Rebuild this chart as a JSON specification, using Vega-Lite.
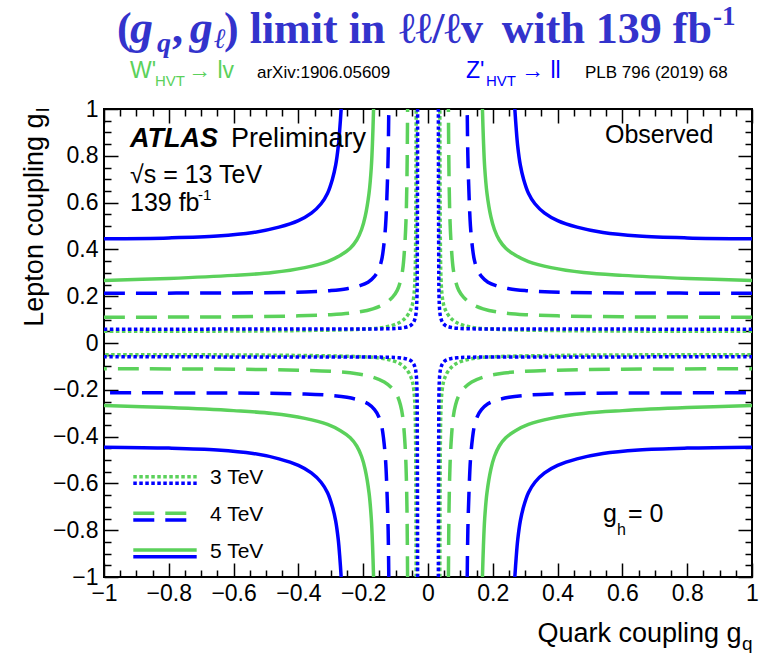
{
"$schema": "https://vega.github.io/schema/vega-lite/v6.json",
"width": 648, "height": 468,
"autosize": {"type": "none"},
"padding": {"left": 104, "top": 109, "right": 7, "bottom": 76},
"background": "white",
"config": {
 "view": {"stroke": "black", "strokeWidth": 2},
 "axis": {"labelFont": "Liberation Sans", "labelFontSize": 23, "labelColor": "black", "titleFont": "Liberation Sans", "titleFontSize": 27, "titleFontWeight": "normal", "titleColor": "black", "grid": false, "domain": false, "tickColor": "black", "tickWidth": 1.5}
},
"datasets": {"curves": [
{"c":"Z5","s":"TL","q":-1,"l":0.445},{"c":"Z5","s":"TL","q":-0.8,"l":0.449},{"c":"Z5","s":"TL","q":-0.65,"l":0.457},{"c":"Z5","s":"TL","q":-0.54,"l":0.472},{"c":"Z5","s":"TL","q":-0.46,"l":0.495},{"c":"Z5","s":"TL","q":-0.4,"l":0.523},{"c":"Z5","s":"TL","q":-0.36,"l":0.555},{"c":"Z5","s":"TL","q":-0.33,"l":0.595},{"c":"Z5","s":"TL","q":-0.31,"l":0.64},{"c":"Z5","s":"TL","q":-0.295,"l":0.7},{"c":"Z5","s":"TL","q":-0.285,"l":0.76},{"c":"Z5","s":"TL","q":-0.277,"l":0.84},{"c":"Z5","s":"TL","q":-0.272,"l":0.92},{"c":"Z5","s":"TL","q":-0.268,"l":1},
{"c":"Z5","s":"TR","q":1,"l":0.445},{"c":"Z5","s":"TR","q":0.8,"l":0.449},{"c":"Z5","s":"TR","q":0.65,"l":0.457},{"c":"Z5","s":"TR","q":0.54,"l":0.472},{"c":"Z5","s":"TR","q":0.46,"l":0.495},{"c":"Z5","s":"TR","q":0.4,"l":0.523},{"c":"Z5","s":"TR","q":0.36,"l":0.555},{"c":"Z5","s":"TR","q":0.33,"l":0.595},{"c":"Z5","s":"TR","q":0.31,"l":0.64},{"c":"Z5","s":"TR","q":0.295,"l":0.7},{"c":"Z5","s":"TR","q":0.285,"l":0.76},{"c":"Z5","s":"TR","q":0.277,"l":0.84},{"c":"Z5","s":"TR","q":0.272,"l":0.92},{"c":"Z5","s":"TR","q":0.268,"l":1},
{"c":"Z5","s":"BL","q":-1,"l":-0.445},{"c":"Z5","s":"BL","q":-0.8,"l":-0.449},{"c":"Z5","s":"BL","q":-0.65,"l":-0.457},{"c":"Z5","s":"BL","q":-0.54,"l":-0.472},{"c":"Z5","s":"BL","q":-0.46,"l":-0.495},{"c":"Z5","s":"BL","q":-0.4,"l":-0.523},{"c":"Z5","s":"BL","q":-0.36,"l":-0.555},{"c":"Z5","s":"BL","q":-0.33,"l":-0.595},{"c":"Z5","s":"BL","q":-0.31,"l":-0.64},{"c":"Z5","s":"BL","q":-0.295,"l":-0.7},{"c":"Z5","s":"BL","q":-0.285,"l":-0.76},{"c":"Z5","s":"BL","q":-0.277,"l":-0.84},{"c":"Z5","s":"BL","q":-0.272,"l":-0.92},{"c":"Z5","s":"BL","q":-0.268,"l":-1},
{"c":"Z5","s":"BR","q":1,"l":-0.445},{"c":"Z5","s":"BR","q":0.8,"l":-0.449},{"c":"Z5","s":"BR","q":0.65,"l":-0.457},{"c":"Z5","s":"BR","q":0.54,"l":-0.472},{"c":"Z5","s":"BR","q":0.46,"l":-0.495},{"c":"Z5","s":"BR","q":0.4,"l":-0.523},{"c":"Z5","s":"BR","q":0.36,"l":-0.555},{"c":"Z5","s":"BR","q":0.33,"l":-0.595},{"c":"Z5","s":"BR","q":0.31,"l":-0.64},{"c":"Z5","s":"BR","q":0.295,"l":-0.7},{"c":"Z5","s":"BR","q":0.285,"l":-0.76},{"c":"Z5","s":"BR","q":0.277,"l":-0.84},{"c":"Z5","s":"BR","q":0.272,"l":-0.92},{"c":"Z5","s":"BR","q":0.268,"l":-1},
{"c":"W5","s":"TL","q":-1,"l":0.267},{"c":"W5","s":"TL","q":-0.8,"l":0.276},{"c":"W5","s":"TL","q":-0.6,"l":0.289},{"c":"W5","s":"TL","q":-0.48,"l":0.301},{"c":"W5","s":"TL","q":-0.38,"l":0.322},{"c":"W5","s":"TL","q":-0.31,"l":0.348},{"c":"W5","s":"TL","q":-0.27,"l":0.375},{"c":"W5","s":"TL","q":-0.24,"l":0.405},{"c":"W5","s":"TL","q":-0.22,"l":0.44},{"c":"W5","s":"TL","q":-0.205,"l":0.485},{"c":"W5","s":"TL","q":-0.194,"l":0.54},{"c":"W5","s":"TL","q":-0.182,"l":0.64},{"c":"W5","s":"TL","q":-0.175,"l":0.75},{"c":"W5","s":"TL","q":-0.171,"l":0.87},{"c":"W5","s":"TL","q":-0.168,"l":1},
{"c":"W5","s":"TR","q":1,"l":0.267},{"c":"W5","s":"TR","q":0.8,"l":0.276},{"c":"W5","s":"TR","q":0.6,"l":0.289},{"c":"W5","s":"TR","q":0.48,"l":0.301},{"c":"W5","s":"TR","q":0.38,"l":0.322},{"c":"W5","s":"TR","q":0.31,"l":0.348},{"c":"W5","s":"TR","q":0.27,"l":0.375},{"c":"W5","s":"TR","q":0.24,"l":0.405},{"c":"W5","s":"TR","q":0.22,"l":0.44},{"c":"W5","s":"TR","q":0.205,"l":0.485},{"c":"W5","s":"TR","q":0.194,"l":0.54},{"c":"W5","s":"TR","q":0.182,"l":0.64},{"c":"W5","s":"TR","q":0.175,"l":0.75},{"c":"W5","s":"TR","q":0.171,"l":0.87},{"c":"W5","s":"TR","q":0.168,"l":1},
{"c":"W5","s":"BL","q":-1,"l":-0.267},{"c":"W5","s":"BL","q":-0.8,"l":-0.276},{"c":"W5","s":"BL","q":-0.6,"l":-0.289},{"c":"W5","s":"BL","q":-0.48,"l":-0.301},{"c":"W5","s":"BL","q":-0.38,"l":-0.322},{"c":"W5","s":"BL","q":-0.31,"l":-0.348},{"c":"W5","s":"BL","q":-0.27,"l":-0.375},{"c":"W5","s":"BL","q":-0.24,"l":-0.405},{"c":"W5","s":"BL","q":-0.22,"l":-0.44},{"c":"W5","s":"BL","q":-0.205,"l":-0.485},{"c":"W5","s":"BL","q":-0.194,"l":-0.54},{"c":"W5","s":"BL","q":-0.182,"l":-0.64},{"c":"W5","s":"BL","q":-0.175,"l":-0.75},{"c":"W5","s":"BL","q":-0.171,"l":-0.87},{"c":"W5","s":"BL","q":-0.168,"l":-1},
{"c":"W5","s":"BR","q":1,"l":-0.267},{"c":"W5","s":"BR","q":0.8,"l":-0.276},{"c":"W5","s":"BR","q":0.6,"l":-0.289},{"c":"W5","s":"BR","q":0.48,"l":-0.301},{"c":"W5","s":"BR","q":0.38,"l":-0.322},{"c":"W5","s":"BR","q":0.31,"l":-0.348},{"c":"W5","s":"BR","q":0.27,"l":-0.375},{"c":"W5","s":"BR","q":0.24,"l":-0.405},{"c":"W5","s":"BR","q":0.22,"l":-0.44},{"c":"W5","s":"BR","q":0.205,"l":-0.485},{"c":"W5","s":"BR","q":0.194,"l":-0.54},{"c":"W5","s":"BR","q":0.182,"l":-0.64},{"c":"W5","s":"BR","q":0.175,"l":-0.75},{"c":"W5","s":"BR","q":0.171,"l":-0.87},{"c":"W5","s":"BR","q":0.168,"l":-1},
{"c":"Z4","s":"TL","q":-1,"l":0.213},{"c":"Z4","s":"TL","q":-0.6,"l":0.214},{"c":"Z4","s":"TL","q":-0.38,"l":0.218},{"c":"Z4","s":"TL","q":-0.3,"l":0.224},{"c":"Z4","s":"TL","q":-0.25,"l":0.232},{"c":"Z4","s":"TL","q":-0.21,"l":0.245},{"c":"Z4","s":"TL","q":-0.185,"l":0.26},{"c":"Z4","s":"TL","q":-0.165,"l":0.285},{"c":"Z4","s":"TL","q":-0.152,"l":0.315},{"c":"Z4","s":"TL","q":-0.143,"l":0.355},{"c":"Z4","s":"TL","q":-0.137,"l":0.41},{"c":"Z4","s":"TL","q":-0.131,"l":0.5},{"c":"Z4","s":"TL","q":-0.127,"l":0.62},{"c":"Z4","s":"TL","q":-0.123,"l":0.8},{"c":"Z4","s":"TL","q":-0.121,"l":1},
{"c":"Z4","s":"TR","q":1,"l":0.213},{"c":"Z4","s":"TR","q":0.6,"l":0.214},{"c":"Z4","s":"TR","q":0.38,"l":0.218},{"c":"Z4","s":"TR","q":0.3,"l":0.224},{"c":"Z4","s":"TR","q":0.25,"l":0.232},{"c":"Z4","s":"TR","q":0.21,"l":0.245},{"c":"Z4","s":"TR","q":0.185,"l":0.26},{"c":"Z4","s":"TR","q":0.165,"l":0.285},{"c":"Z4","s":"TR","q":0.152,"l":0.315},{"c":"Z4","s":"TR","q":0.143,"l":0.355},{"c":"Z4","s":"TR","q":0.137,"l":0.41},{"c":"Z4","s":"TR","q":0.131,"l":0.5},{"c":"Z4","s":"TR","q":0.127,"l":0.62},{"c":"Z4","s":"TR","q":0.123,"l":0.8},{"c":"Z4","s":"TR","q":0.121,"l":1},
{"c":"Z4","s":"BL","q":-1,"l":-0.213},{"c":"Z4","s":"BL","q":-0.6,"l":-0.214},{"c":"Z4","s":"BL","q":-0.38,"l":-0.218},{"c":"Z4","s":"BL","q":-0.3,"l":-0.224},{"c":"Z4","s":"BL","q":-0.25,"l":-0.232},{"c":"Z4","s":"BL","q":-0.21,"l":-0.245},{"c":"Z4","s":"BL","q":-0.185,"l":-0.26},{"c":"Z4","s":"BL","q":-0.165,"l":-0.285},{"c":"Z4","s":"BL","q":-0.152,"l":-0.315},{"c":"Z4","s":"BL","q":-0.143,"l":-0.355},{"c":"Z4","s":"BL","q":-0.137,"l":-0.41},{"c":"Z4","s":"BL","q":-0.131,"l":-0.5},{"c":"Z4","s":"BL","q":-0.127,"l":-0.62},{"c":"Z4","s":"BL","q":-0.123,"l":-0.8},{"c":"Z4","s":"BL","q":-0.121,"l":-1},
{"c":"Z4","s":"BR","q":1,"l":-0.213},{"c":"Z4","s":"BR","q":0.6,"l":-0.214},{"c":"Z4","s":"BR","q":0.38,"l":-0.218},{"c":"Z4","s":"BR","q":0.3,"l":-0.224},{"c":"Z4","s":"BR","q":0.25,"l":-0.232},{"c":"Z4","s":"BR","q":0.21,"l":-0.245},{"c":"Z4","s":"BR","q":0.185,"l":-0.26},{"c":"Z4","s":"BR","q":0.165,"l":-0.285},{"c":"Z4","s":"BR","q":0.152,"l":-0.315},{"c":"Z4","s":"BR","q":0.143,"l":-0.355},{"c":"Z4","s":"BR","q":0.137,"l":-0.41},{"c":"Z4","s":"BR","q":0.131,"l":-0.5},{"c":"Z4","s":"BR","q":0.127,"l":-0.62},{"c":"Z4","s":"BR","q":0.123,"l":-0.8},{"c":"Z4","s":"BR","q":0.121,"l":-1},
{"c":"W4","s":"TL","q":-1,"l":0.11},{"c":"W4","s":"TL","q":-0.6,"l":0.112},{"c":"W4","s":"TL","q":-0.4,"l":0.116},{"c":"W4","s":"TL","q":-0.3,"l":0.121},{"c":"W4","s":"TL","q":-0.22,"l":0.131},{"c":"W4","s":"TL","q":-0.17,"l":0.146},{"c":"W4","s":"TL","q":-0.135,"l":0.167},{"c":"W4","s":"TL","q":-0.11,"l":0.195},{"c":"W4","s":"TL","q":-0.095,"l":0.225},{"c":"W4","s":"TL","q":-0.085,"l":0.265},{"c":"W4","s":"TL","q":-0.078,"l":0.315},{"c":"W4","s":"TL","q":-0.072,"l":0.41},{"c":"W4","s":"TL","q":-0.068,"l":0.52},{"c":"W4","s":"TL","q":-0.065,"l":0.7},{"c":"W4","s":"TL","q":-0.063,"l":1},
{"c":"W4","s":"TR","q":1,"l":0.11},{"c":"W4","s":"TR","q":0.6,"l":0.112},{"c":"W4","s":"TR","q":0.4,"l":0.116},{"c":"W4","s":"TR","q":0.3,"l":0.121},{"c":"W4","s":"TR","q":0.22,"l":0.131},{"c":"W4","s":"TR","q":0.17,"l":0.146},{"c":"W4","s":"TR","q":0.135,"l":0.167},{"c":"W4","s":"TR","q":0.11,"l":0.195},{"c":"W4","s":"TR","q":0.095,"l":0.225},{"c":"W4","s":"TR","q":0.085,"l":0.265},{"c":"W4","s":"TR","q":0.078,"l":0.315},{"c":"W4","s":"TR","q":0.072,"l":0.41},{"c":"W4","s":"TR","q":0.068,"l":0.52},{"c":"W4","s":"TR","q":0.065,"l":0.7},{"c":"W4","s":"TR","q":0.063,"l":1},
{"c":"W4","s":"BL","q":-1,"l":-0.11},{"c":"W4","s":"BL","q":-0.6,"l":-0.112},{"c":"W4","s":"BL","q":-0.4,"l":-0.116},{"c":"W4","s":"BL","q":-0.3,"l":-0.121},{"c":"W4","s":"BL","q":-0.22,"l":-0.131},{"c":"W4","s":"BL","q":-0.17,"l":-0.146},{"c":"W4","s":"BL","q":-0.135,"l":-0.167},{"c":"W4","s":"BL","q":-0.11,"l":-0.195},{"c":"W4","s":"BL","q":-0.095,"l":-0.225},{"c":"W4","s":"BL","q":-0.085,"l":-0.265},{"c":"W4","s":"BL","q":-0.078,"l":-0.315},{"c":"W4","s":"BL","q":-0.072,"l":-0.41},{"c":"W4","s":"BL","q":-0.068,"l":-0.52},{"c":"W4","s":"BL","q":-0.065,"l":-0.7},{"c":"W4","s":"BL","q":-0.063,"l":-1},
{"c":"W4","s":"BR","q":1,"l":-0.11},{"c":"W4","s":"BR","q":0.6,"l":-0.112},{"c":"W4","s":"BR","q":0.4,"l":-0.116},{"c":"W4","s":"BR","q":0.3,"l":-0.121},{"c":"W4","s":"BR","q":0.22,"l":-0.131},{"c":"W4","s":"BR","q":0.17,"l":-0.146},{"c":"W4","s":"BR","q":0.135,"l":-0.167},{"c":"W4","s":"BR","q":0.11,"l":-0.195},{"c":"W4","s":"BR","q":0.095,"l":-0.225},{"c":"W4","s":"BR","q":0.085,"l":-0.265},{"c":"W4","s":"BR","q":0.078,"l":-0.315},{"c":"W4","s":"BR","q":0.072,"l":-0.41},{"c":"W4","s":"BR","q":0.068,"l":-0.52},{"c":"W4","s":"BR","q":0.065,"l":-0.7},{"c":"W4","s":"BR","q":0.063,"l":-1},
{"c":"Z3","s":"TL","q":-1,"l":0.059},{"c":"Z3","s":"TL","q":-0.5,"l":0.0595},{"c":"Z3","s":"TL","q":-0.2,"l":0.06},{"c":"Z3","s":"TL","q":-0.12,"l":0.061},{"c":"Z3","s":"TL","q":-0.09,"l":0.063},{"c":"Z3","s":"TL","q":-0.07,"l":0.067},{"c":"Z3","s":"TL","q":-0.055,"l":0.074},{"c":"Z3","s":"TL","q":-0.045,"l":0.088},{"c":"Z3","s":"TL","q":-0.039,"l":0.11},{"c":"Z3","s":"TL","q":-0.036,"l":0.14},{"c":"Z3","s":"TL","q":-0.034,"l":0.2},{"c":"Z3","s":"TL","q":-0.033,"l":0.4},{"c":"Z3","s":"TL","q":-0.032,"l":1},
{"c":"Z3","s":"TR","q":1,"l":0.059},{"c":"Z3","s":"TR","q":0.5,"l":0.0595},{"c":"Z3","s":"TR","q":0.2,"l":0.06},{"c":"Z3","s":"TR","q":0.12,"l":0.061},{"c":"Z3","s":"TR","q":0.09,"l":0.063},{"c":"Z3","s":"TR","q":0.07,"l":0.067},{"c":"Z3","s":"TR","q":0.055,"l":0.074},{"c":"Z3","s":"TR","q":0.045,"l":0.088},{"c":"Z3","s":"TR","q":0.039,"l":0.11},{"c":"Z3","s":"TR","q":0.036,"l":0.14},{"c":"Z3","s":"TR","q":0.034,"l":0.2},{"c":"Z3","s":"TR","q":0.033,"l":0.4},{"c":"Z3","s":"TR","q":0.032,"l":1},
{"c":"Z3","s":"BL","q":-1,"l":-0.059},{"c":"Z3","s":"BL","q":-0.5,"l":-0.0595},{"c":"Z3","s":"BL","q":-0.2,"l":-0.06},{"c":"Z3","s":"BL","q":-0.12,"l":-0.061},{"c":"Z3","s":"BL","q":-0.09,"l":-0.063},{"c":"Z3","s":"BL","q":-0.07,"l":-0.067},{"c":"Z3","s":"BL","q":-0.055,"l":-0.074},{"c":"Z3","s":"BL","q":-0.045,"l":-0.088},{"c":"Z3","s":"BL","q":-0.039,"l":-0.11},{"c":"Z3","s":"BL","q":-0.036,"l":-0.14},{"c":"Z3","s":"BL","q":-0.034,"l":-0.2},{"c":"Z3","s":"BL","q":-0.033,"l":-0.4},{"c":"Z3","s":"BL","q":-0.032,"l":-1},
{"c":"Z3","s":"BR","q":1,"l":-0.059},{"c":"Z3","s":"BR","q":0.5,"l":-0.0595},{"c":"Z3","s":"BR","q":0.2,"l":-0.06},{"c":"Z3","s":"BR","q":0.12,"l":-0.061},{"c":"Z3","s":"BR","q":0.09,"l":-0.063},{"c":"Z3","s":"BR","q":0.07,"l":-0.067},{"c":"Z3","s":"BR","q":0.055,"l":-0.074},{"c":"Z3","s":"BR","q":0.045,"l":-0.088},{"c":"Z3","s":"BR","q":0.039,"l":-0.11},{"c":"Z3","s":"BR","q":0.036,"l":-0.14},{"c":"Z3","s":"BR","q":0.034,"l":-0.2},{"c":"Z3","s":"BR","q":0.033,"l":-0.4},{"c":"Z3","s":"BR","q":0.032,"l":-1},
{"c":"W3","s":"TL","q":-1,"l":0.05},{"c":"W3","s":"TL","q":-0.6,"l":0.051},{"c":"W3","s":"TL","q":-0.35,"l":0.054},{"c":"W3","s":"TL","q":-0.22,"l":0.058},{"c":"W3","s":"TL","q":-0.15,"l":0.064},{"c":"W3","s":"TL","q":-0.11,"l":0.075},{"c":"W3","s":"TL","q":-0.085,"l":0.09},{"c":"W3","s":"TL","q":-0.068,"l":0.11},{"c":"W3","s":"TL","q":-0.056,"l":0.135},{"c":"W3","s":"TL","q":-0.048,"l":0.165},{"c":"W3","s":"TL","q":-0.043,"l":0.21},{"c":"W3","s":"TL","q":-0.04,"l":0.28},{"c":"W3","s":"TL","q":-0.038,"l":0.45},{"c":"W3","s":"TL","q":-0.0365,"l":1},
{"c":"W3","s":"TR","q":1,"l":0.05},{"c":"W3","s":"TR","q":0.6,"l":0.051},{"c":"W3","s":"TR","q":0.35,"l":0.054},{"c":"W3","s":"TR","q":0.22,"l":0.058},{"c":"W3","s":"TR","q":0.15,"l":0.064},{"c":"W3","s":"TR","q":0.11,"l":0.075},{"c":"W3","s":"TR","q":0.085,"l":0.09},{"c":"W3","s":"TR","q":0.068,"l":0.11},{"c":"W3","s":"TR","q":0.056,"l":0.135},{"c":"W3","s":"TR","q":0.048,"l":0.165},{"c":"W3","s":"TR","q":0.043,"l":0.21},{"c":"W3","s":"TR","q":0.04,"l":0.28},{"c":"W3","s":"TR","q":0.038,"l":0.45},{"c":"W3","s":"TR","q":0.0365,"l":1},
{"c":"W3","s":"BL","q":-1,"l":-0.05},{"c":"W3","s":"BL","q":-0.6,"l":-0.051},{"c":"W3","s":"BL","q":-0.35,"l":-0.054},{"c":"W3","s":"BL","q":-0.22,"l":-0.058},{"c":"W3","s":"BL","q":-0.15,"l":-0.064},{"c":"W3","s":"BL","q":-0.11,"l":-0.075},{"c":"W3","s":"BL","q":-0.085,"l":-0.09},{"c":"W3","s":"BL","q":-0.068,"l":-0.11},{"c":"W3","s":"BL","q":-0.056,"l":-0.135},{"c":"W3","s":"BL","q":-0.048,"l":-0.165},{"c":"W3","s":"BL","q":-0.043,"l":-0.21},{"c":"W3","s":"BL","q":-0.04,"l":-0.28},{"c":"W3","s":"BL","q":-0.038,"l":-0.45},{"c":"W3","s":"BL","q":-0.0365,"l":-1},
{"c":"W3","s":"BR","q":1,"l":-0.05},{"c":"W3","s":"BR","q":0.6,"l":-0.051},{"c":"W3","s":"BR","q":0.35,"l":-0.054},{"c":"W3","s":"BR","q":0.22,"l":-0.058},{"c":"W3","s":"BR","q":0.15,"l":-0.064},{"c":"W3","s":"BR","q":0.11,"l":-0.075},{"c":"W3","s":"BR","q":0.085,"l":-0.09},{"c":"W3","s":"BR","q":0.068,"l":-0.11},{"c":"W3","s":"BR","q":0.056,"l":-0.135},{"c":"W3","s":"BR","q":0.048,"l":-0.165},{"c":"W3","s":"BR","q":0.043,"l":-0.21},{"c":"W3","s":"BR","q":0.04,"l":-0.28},{"c":"W3","s":"BR","q":0.038,"l":-0.45},{"c":"W3","s":"BR","q":0.0365,"l":-1}
], "one": [{}]},
"layer": [
{"data": {"name": "curves"}, "transform": [{"filter": "datum.c == 'W3'"}],
 "mark": {"type": "line", "color": "#5bd15b", "strokeWidth": 3.5, "strokeDash": [3.5, 2.5], "interpolate": "catmull-rom", "clip": true},
 "encoding": {
  "x": {"field": "q", "type": "quantitative", "scale": {"domain": [-1, 1], "nice": false, "zero": false},
   "axis": {"orient": "bottom", "values": [-1,-0.8,-0.6,-0.4,-0.2,0,0.2,0.4,0.6,0.8,1], "format": ".1~f", "ticks": false, "labelPadding": 5, "labelFlush": false, "labelOverlap": false, "title": "Quark coupling g", "titleAnchor": "end", "titleAlign": "right", "titleBaseline": "alphabetic", "titleX": 637, "titleY": 64}},
  "y": {"field": "l", "type": "quantitative", "scale": {"domain": [-1, 1], "nice": false, "zero": false},
   "axis": {"orient": "left", "values": [-1,-0.8,-0.6,-0.4,-0.2,0,0.2,0.4,0.6,0.8,1], "format": ".1~f", "ticks": false, "labelPadding": 6, "labelFlush": false, "labelOverlap": false, "title": "Lepton coupling g", "titleAnchor": "end", "titleAngle": 270, "titleAlign": "right", "titleBaseline": "alphabetic", "titleX": -62, "titleY": 4}},
  "detail": {"field": "s"},
  "order": {"field": "l", "type": "quantitative"}
 }},
{"data": {"name": "curves"}, "transform": [{"filter": "datum.c == 'W4'"}],
 "mark": {"type": "line", "color": "#5bd15b", "strokeWidth": 3.5, "strokeDash": [21, 11], "interpolate": "catmull-rom", "clip": true},
 "encoding": {
  "x": {"field": "q", "type": "quantitative", "scale": {"domain": [-1, 1], "nice": false, "zero": false},
   "axis": {"orient": "bottom", "offset": -14, "tickSize": 14, "values": [-1,-0.8,-0.6,-0.4,-0.2,0,0.2,0.4,0.6,0.8,1], "labels": false, "title": null}},
  "y": {"field": "l", "type": "quantitative", "scale": {"domain": [-1, 1], "nice": false, "zero": false},
   "axis": {"orient": "left", "offset": -14, "tickSize": 14, "values": [-1,-0.8,-0.6,-0.4,-0.2,0,0.2,0.4,0.6,0.8,1], "labels": false, "title": null}},
  "detail": {"field": "s"},
  "order": {"field": "l", "type": "quantitative"}
 }},
{"data": {"name": "curves"}, "transform": [{"filter": "datum.c == 'W5'"}],
 "mark": {"type": "line", "color": "#5bd15b", "strokeWidth": 3.5, "interpolate": "catmull-rom", "clip": true},
 "encoding": {
  "x": {"field": "q", "type": "quantitative", "scale": {"domain": [-1, 1], "nice": false, "zero": false},
   "axis": {"orient": "bottom", "offset": -7, "tickSize": 7, "values": [-0.95,-0.9,-0.85,-0.75,-0.7,-0.65,-0.55,-0.5,-0.45,-0.35,-0.3,-0.25,-0.15,-0.1,-0.05,0.05,0.1,0.15,0.25,0.3,0.35,0.45,0.5,0.55,0.65,0.7,0.75,0.85,0.9,0.95], "labels": false, "title": null}},
  "y": {"field": "l", "type": "quantitative", "scale": {"domain": [-1, 1], "nice": false, "zero": false},
   "axis": {"orient": "left", "offset": -7, "tickSize": 7, "values": [-0.95,-0.9,-0.85,-0.75,-0.7,-0.65,-0.55,-0.5,-0.45,-0.35,-0.3,-0.25,-0.15,-0.1,-0.05,0.05,0.1,0.15,0.25,0.3,0.35,0.45,0.5,0.55,0.65,0.7,0.75,0.85,0.9,0.95], "labels": false, "title": null}},
  "detail": {"field": "s"},
  "order": {"field": "l", "type": "quantitative"}
 }},
{"data": {"name": "curves"}, "transform": [{"filter": "datum.c == 'Z3'"}],
 "mark": {"type": "line", "color": "#0000ff", "strokeWidth": 3.5, "strokeDash": [3.5, 2.5], "interpolate": "catmull-rom", "clip": true},
 "encoding": {
  "x": {"field": "q", "type": "quantitative", "scale": {"domain": [-1, 1], "nice": false, "zero": false},
   "axis": {"orient": "top", "offset": -14, "tickSize": 14, "values": [-1,-0.8,-0.6,-0.4,-0.2,0,0.2,0.4,0.6,0.8,1], "labels": false, "title": null}},
  "y": {"field": "l", "type": "quantitative", "scale": {"domain": [-1, 1], "nice": false, "zero": false},
   "axis": {"orient": "right", "offset": -14, "tickSize": 14, "values": [-1,-0.8,-0.6,-0.4,-0.2,0,0.2,0.4,0.6,0.8,1], "labels": false, "title": null}},
  "detail": {"field": "s"},
  "order": {"field": "l", "type": "quantitative"}
 }},
{"data": {"name": "curves"}, "transform": [{"filter": "datum.c == 'Z4'"}],
 "mark": {"type": "line", "color": "#0000ff", "strokeWidth": 3.5, "strokeDash": [21, 11], "interpolate": "catmull-rom", "clip": true},
 "encoding": {
  "x": {"field": "q", "type": "quantitative", "scale": {"domain": [-1, 1], "nice": false, "zero": false},
   "axis": {"orient": "top", "offset": -7, "tickSize": 7, "values": [-0.95,-0.9,-0.85,-0.75,-0.7,-0.65,-0.55,-0.5,-0.45,-0.35,-0.3,-0.25,-0.15,-0.1,-0.05,0.05,0.1,0.15,0.25,0.3,0.35,0.45,0.5,0.55,0.65,0.7,0.75,0.85,0.9,0.95], "labels": false, "title": null}},
  "y": {"field": "l", "type": "quantitative", "scale": {"domain": [-1, 1], "nice": false, "zero": false},
   "axis": {"orient": "right", "offset": -7, "tickSize": 7, "values": [-0.95,-0.9,-0.85,-0.75,-0.7,-0.65,-0.55,-0.5,-0.45,-0.35,-0.3,-0.25,-0.15,-0.1,-0.05,0.05,0.1,0.15,0.25,0.3,0.35,0.45,0.5,0.55,0.65,0.7,0.75,0.85,0.9,0.95], "labels": false, "title": null}},
  "detail": {"field": "s"},
  "order": {"field": "l", "type": "quantitative"}
 }},
{"data": {"name": "curves"}, "transform": [{"filter": "datum.c == 'Z5'"}],
 "mark": {"type": "line", "color": "#0000ff", "strokeWidth": 3.5, "interpolate": "catmull-rom", "clip": true},
 "encoding": {
  "x": {"field": "q", "type": "quantitative", "scale": {"domain": [-1, 1], "nice": false, "zero": false}, "axis": null},
  "y": {"field": "l", "type": "quantitative", "scale": {"domain": [-1, 1], "nice": false, "zero": false}, "axis": null},
  "detail": {"field": "s"},
  "order": {"field": "l", "type": "quantitative"}
 }},
{"data": {"name": "one"}, "mark": {"type": "rule", "color": "#5bd15b", "strokeWidth": 3.5, "strokeDash": [3.5, 2.5]},
 "encoding": {"x": {"datum": -0.9096, "axis": null}, "x2": {"datum": -0.7139}, "y": {"datum": -0.5714, "axis": null}}},
{"data": {"name": "one"}, "mark": {"type": "rule", "color": "#0000ff", "strokeWidth": 3.5, "strokeDash": [3.5, 2.5]},
 "encoding": {"x": {"datum": -0.9096, "axis": null}, "x2": {"datum": -0.7139}, "y": {"datum": -0.5996, "axis": null}}},
{"data": {"name": "one"}, "mark": {"type": "rule", "color": "#5bd15b", "strokeWidth": 3.5, "strokeDash": [21, 11]},
 "encoding": {"x": {"datum": -0.9096, "axis": null}, "x2": {"datum": -0.7139}, "y": {"datum": -0.7278, "axis": null}}},
{"data": {"name": "one"}, "mark": {"type": "rule", "color": "#0000ff", "strokeWidth": 3.5, "strokeDash": [21, 11]},
 "encoding": {"x": {"datum": -0.9096, "axis": null}, "x2": {"datum": -0.7139}, "y": {"datum": -0.7564, "axis": null}}},
{"data": {"name": "one"}, "mark": {"type": "rule", "color": "#5bd15b", "strokeWidth": 3.5},
 "encoding": {"x": {"datum": -0.9096, "axis": null}, "x2": {"datum": -0.7139}, "y": {"datum": -0.8846, "axis": null}}},
{"data": {"name": "one"}, "mark": {"type": "rule", "color": "#0000ff", "strokeWidth": 3.5},
 "encoding": {"x": {"datum": -0.9096, "axis": null}, "x2": {"datum": -0.7139}, "y": {"datum": -0.9132, "axis": null}}},
{"data": {"name": "one"}, "mark": {"type": "text", "text": "3 TeV", "font": "Liberation Sans", "fontSize": 21, "align": "left", "baseline": "middle", "color": "black"},
 "encoding": {"x": {"datum": -0.6728, "axis": null}, "y": {"datum": -0.578, "axis": null}}},
{"data": {"name": "one"}, "mark": {"type": "text", "text": "4 TeV", "font": "Liberation Sans", "fontSize": 21, "align": "left", "baseline": "middle", "color": "black"},
 "encoding": {"x": {"datum": -0.6728, "axis": null}, "y": {"datum": -0.735, "axis": null}}},
{"data": {"name": "one"}, "mark": {"type": "text", "text": "5 TeV", "font": "Liberation Sans", "fontSize": 21, "align": "left", "baseline": "middle", "color": "black"},
 "encoding": {"x": {"datum": -0.6728, "axis": null}, "y": {"datum": -0.894, "axis": null}}},
{"data": {"name": "one"}, "mark": {"type": "text", "text": "ATLAS", "font": "Liberation Sans", "fontSize": 27, "fontWeight": "bold", "fontStyle": "italic", "align": "left", "baseline": "alphabetic", "color": "black"},
 "encoding": {"x": {"datum": -0.9198, "axis": null}, "y": {"datum": 0.8376, "axis": null}}},
{"data": {"name": "one"}, "mark": {"type": "text", "text": "Preliminary", "font": "Liberation Sans", "fontSize": 27, "align": "left", "baseline": "alphabetic", "color": "black"},
 "encoding": {"x": {"datum": -0.608, "axis": null}, "y": {"datum": 0.8376, "axis": null}}},
{"data": {"name": "one"}, "mark": {"type": "text", "text": "√s = 13 TeV", "font": "Liberation Sans", "fontSize": 25, "align": "left", "baseline": "alphabetic", "color": "black"},
 "encoding": {"x": {"datum": -0.9198, "axis": null}, "y": {"datum": 0.6823, "axis": null}}},
{"data": {"name": "one"}, "mark": {"type": "text", "text": "139 fb", "font": "Liberation Sans", "fontSize": 25, "align": "left", "baseline": "alphabetic", "color": "black"},
 "encoding": {"x": {"datum": -0.9198, "axis": null}, "y": {"datum": 0.5655, "axis": null}}},
{"data": {"name": "one"}, "mark": {"type": "text", "text": "-1", "font": "Liberation Sans", "fontSize": 15, "align": "left", "baseline": "alphabetic", "color": "black"},
 "encoding": {"x": {"datum": -0.7099, "axis": null}, "y": {"datum": 0.6111, "axis": null}}},
{"data": {"name": "one"}, "mark": {"type": "text", "text": "Observed", "font": "Liberation Sans", "fontSize": 25, "align": "left", "baseline": "alphabetic", "color": "black"},
 "encoding": {"x": {"datum": 0.5463, "axis": null}, "y": {"datum": 0.8533, "axis": null}}},
{"data": {"name": "one"}, "mark": {"type": "text", "text": "g", "font": "Liberation Sans", "fontSize": 25, "align": "left", "baseline": "alphabetic", "color": "black"},
 "encoding": {"x": {"datum": 0.5401, "axis": null}, "y": {"datum": -0.765, "axis": null}}},
{"data": {"name": "one"}, "mark": {"type": "text", "text": "h", "font": "Liberation Sans", "fontSize": 16, "align": "left", "baseline": "alphabetic", "color": "black"},
 "encoding": {"x": {"datum": 0.5833, "axis": null}, "y": {"datum": -0.8205, "axis": null}}},
{"data": {"name": "one"}, "mark": {"type": "text", "text": "= 0", "font": "Liberation Sans", "fontSize": 25, "align": "left", "baseline": "alphabetic", "color": "black"},
 "encoding": {"x": {"datum": 0.6173, "axis": null}, "y": {"datum": -0.765, "axis": null}}},
{"data": {"name": "one"}, "mark": {"type": "text", "text": "q", "font": "Liberation Sans", "fontSize": 19, "align": "left", "baseline": "alphabetic", "color": "black"},
 "encoding": {"x": {"datum": 0.9691, "axis": null}, "y": {"datum": -1.312, "axis": null}}},
{"data": {"name": "one"}, "mark": {"type": "text", "text": "l", "font": "Liberation Sans", "fontSize": 19, "angle": 270, "align": "left", "baseline": "alphabetic", "color": "black"},
 "encoding": {"x": {"datum": -1.1698, "axis": null}, "y": {"datum": 0.9872, "axis": null}}},
{"data": {"name": "one"}, "mark": {"type": "text", "text": "(", "font": "Liberation Serif", "fontSize": 44, "fontWeight": "bold", "align": "left", "baseline": "alphabetic", "color": "#3333cc"},
 "encoding": {"x": {"datum": -0.9599, "axis": null}, "y": {"datum": 1.2821, "axis": null}}},
{"data": {"name": "one"}, "mark": {"type": "text", "text": "g", "font": "Liberation Serif", "fontSize": 46, "fontWeight": "bold", "fontStyle": "italic", "align": "left", "baseline": "alphabetic", "color": "#3333cc"},
 "encoding": {"x": {"datum": -0.9198, "axis": null}, "y": {"datum": 1.2821, "axis": null}}},
{"data": {"name": "one"}, "mark": {"type": "text", "text": "q", "font": "Liberation Serif", "fontSize": 28, "fontWeight": "bold", "fontStyle": "italic", "align": "left", "baseline": "alphabetic", "color": "#3333cc"},
 "encoding": {"x": {"datum": -0.8364, "axis": null}, "y": {"datum": 1.2436, "axis": null}}},
{"data": {"name": "one"}, "mark": {"type": "text", "text": ",", "font": "Liberation Serif", "fontSize": 44, "fontWeight": "bold", "align": "left", "baseline": "alphabetic", "color": "#3333cc"},
 "encoding": {"x": {"datum": -0.7901, "axis": null}, "y": {"datum": 1.2821, "axis": null}}},
{"data": {"name": "one"}, "mark": {"type": "text", "text": "g", "font": "Liberation Serif", "fontSize": 46, "fontWeight": "bold", "fontStyle": "italic", "align": "left", "baseline": "alphabetic", "color": "#3333cc"},
 "encoding": {"x": {"datum": -0.735, "axis": null}, "y": {"datum": 1.2821, "axis": null}}},
{"data": {"name": "one"}, "mark": {"type": "text", "text": "ℓ", "font": "Liberation Serif", "fontSize": 28, "fontWeight": "bold", "fontStyle": "italic", "align": "left", "baseline": "alphabetic", "color": "#3333cc"},
 "encoding": {"x": {"datum": -0.66, "axis": null}, "y": {"datum": 1.2607, "axis": null}}},
{"data": {"name": "one"}, "mark": {"type": "text", "text": ") limit in", "font": "Liberation Serif", "fontSize": 44, "fontWeight": "bold", "align": "left", "baseline": "alphabetic", "color": "#3333cc"},
 "encoding": {"x": {"datum": -0.6296, "axis": null}, "y": {"datum": 1.2821, "axis": null}}},
{"data": {"name": "one"}, "mark": {"type": "text", "text": "ℓℓ/ℓv", "font": "Liberation Serif", "fontSize": 44, "fontWeight": "bold", "align": "left", "baseline": "alphabetic", "color": "#3333cc"},
 "encoding": {"x": {"datum": -0.089, "axis": null}, "y": {"datum": 1.2821, "axis": null}}},
{"data": {"name": "one"}, "mark": {"type": "text", "text": "with 139 fb", "font": "Liberation Serif", "fontSize": 44, "fontWeight": "bold", "align": "right", "baseline": "alphabetic", "color": "#3333cc"},
 "encoding": {"x": {"datum": 0.8765, "axis": null}, "y": {"datum": 1.2821, "axis": null}}},
{"data": {"name": "one"}, "mark": {"type": "text", "text": "-1", "font": "Liberation Serif", "fontSize": 27, "fontWeight": "bold", "align": "left", "baseline": "alphabetic", "color": "#3333cc"},
 "encoding": {"x": {"datum": 0.8796, "axis": null}, "y": {"datum": 1.359, "axis": null}}},
{"data": {"name": "one"}, "mark": {"type": "text", "text": "W'", "font": "Liberation Sans", "fontSize": 23, "align": "left", "baseline": "alphabetic", "color": "#5bd15b"},
 "encoding": {"x": {"datum": -0.9198, "axis": null}, "y": {"datum": 1.1325, "axis": null}}},
{"data": {"name": "one"}, "mark": {"type": "text", "text": "HVT", "font": "Liberation Sans", "fontSize": 15, "align": "left", "baseline": "alphabetic", "color": "#5bd15b"},
 "encoding": {"x": {"datum": -0.8426, "axis": null}, "y": {"datum": 1.0983, "axis": null}}},
{"data": {"name": "one"}, "mark": {"type": "text", "text": "→ lv", "font": "Liberation Sans", "fontSize": 23, "align": "left", "baseline": "alphabetic", "color": "#5bd15b"},
 "encoding": {"x": {"datum": -0.7407, "axis": null}, "y": {"datum": 1.1325, "axis": null}}},
{"data": {"name": "one"}, "mark": {"type": "text", "text": "arXiv:1906.05609", "font": "Liberation Sans", "fontSize": 17, "align": "left", "baseline": "alphabetic", "color": "black"},
 "encoding": {"x": {"datum": -0.5278, "axis": null}, "y": {"datum": 1.1325, "axis": null}}},
{"data": {"name": "one"}, "mark": {"type": "text", "text": "Z'", "font": "Liberation Sans", "fontSize": 23, "align": "left", "baseline": "alphabetic", "color": "#0000ff"},
 "encoding": {"x": {"datum": 0.1173, "axis": null}, "y": {"datum": 1.1325, "axis": null}}},
{"data": {"name": "one"}, "mark": {"type": "text", "text": "HVT", "font": "Liberation Sans", "fontSize": 15, "align": "left", "baseline": "alphabetic", "color": "#0000ff"},
 "encoding": {"x": {"datum": 0.179, "axis": null}, "y": {"datum": 1.0983, "axis": null}}},
{"data": {"name": "one"}, "mark": {"type": "text", "text": "→ ll", "font": "Liberation Sans", "fontSize": 23, "align": "left", "baseline": "alphabetic", "color": "#0000ff"},
 "encoding": {"x": {"datum": 0.287, "axis": null}, "y": {"datum": 1.1325, "axis": null}}},
{"data": {"name": "one"}, "mark": {"type": "text", "text": "PLB 796 (2019) 68", "font": "Liberation Sans", "fontSize": 17, "align": "left", "baseline": "alphabetic", "color": "black"},
 "encoding": {"x": {"datum": 0.4846, "axis": null}, "y": {"datum": 1.1325, "axis": null}}}
],
"resolve": {"axis": {"x": "independent", "y": "independent"}}
}
